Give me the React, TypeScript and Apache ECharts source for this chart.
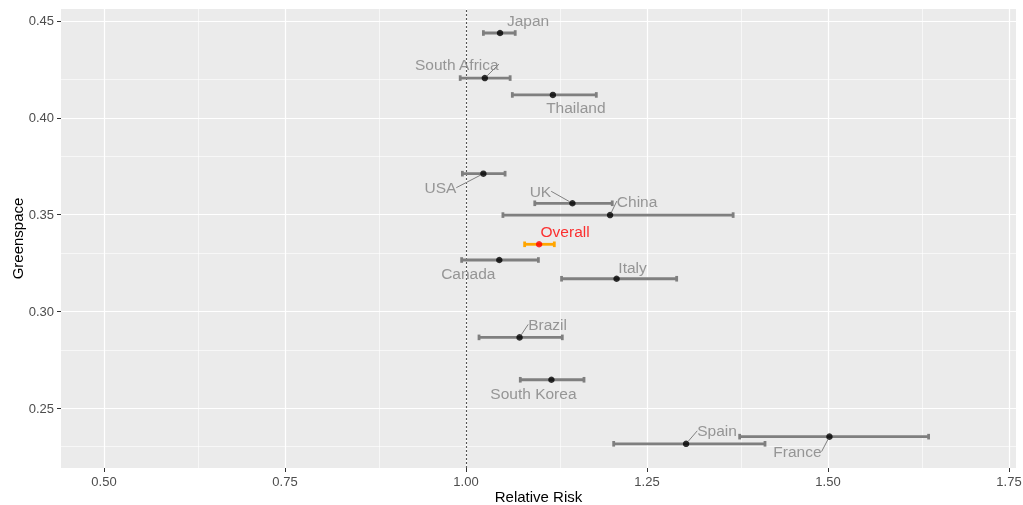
import React, { useEffect, useRef } from "react";
import * as echarts from "echarts";

const countries = ["Japan", "South Africa", "Thailand", "USA", "UK", "China", "Overall", "Canada", "Italy", "Brazil", "South Korea", "Spain", "France"];
const relativeRisk = [1.047, 1.026, 1.12, 1.024, 1.147, 1.199, 1.101, 1.046, 1.208, 1.074, 1.118, 1.304, 1.502];
const lowerCI = [1.024, 0.992, 1.064, 0.995, 1.095, 1.051, 1.081, 0.994, 1.132, 1.018, 1.075, 1.204, 1.378];
const upperCI = [1.068, 1.061, 1.18, 1.054, 1.202, 1.369, 1.122, 1.1, 1.291, 1.133, 1.163, 1.413, 1.639];
const greenspace = [0.4438, 0.4205, 0.4118, 0.3711, 0.3558, 0.3497, 0.3346, 0.3265, 0.3168, 0.2865, 0.2646, 0.2315, 0.2352];

const xTicks = [0.5, 0.75, 1.0, 1.25, 1.5, 1.75];
const xMinor = [0.625, 0.875, 1.125, 1.375, 1.625];
const yTicks = [0.25, 0.3, 0.35, 0.4, 0.45];
const yMinor = [0.225, 0.275, 0.325, 0.375, 0.425];
const referenceRR = 1.0;

// label placement (pixel offsets from the point) and whether a leader line is drawn
const labelOffsets: [number, number][] = [
  [28, -12], [-28, -14], [23, 13], [-43, 14], [-32, -12], [27, -14], [26, -13],
  [-31, 14], [16, -11], [28, -13], [-18, 14], [31, -13], [-32, 15],
];
const leader = [false, true, false, true, true, true, false, false, false, true, false, true, true];

export default function App() {
  const ref = useRef<HTMLDivElement>(null);
  useEffect(() => {
    if (!ref.current) return;
    const chart = echarts.init(ref.current, undefined, { renderer: "svg" });
    const grey = "#7f7f7f";
    const errData = countries.map((c, i) => ({
      name: c,
      value: [lowerCI[i], upperCI[i], greenspace[i]],
      itemStyle: { color: c === "Overall" ? "#FFA500" : grey },
    }));
    const ptData = countries.map((c, i) => ({
      name: c,
      value: [relativeRisk[i], greenspace[i]],
      itemStyle: { color: c === "Overall" ? "#FF0000" : "#000000" },
      label: { color: c === "Overall" ? "#FF0000" : "#808080" },
      labelLine: { show: leader[i] },
    }));
    const option: any = {
      animation: false,
      textStyle: { fontFamily: "'Liberation Sans', Arial, sans-serif" },
      grid: {
        left: 61, right: 7, top: 9, bottom: 37,
        outerBoundsMode: "none", containLabel: false,
        show: true, backgroundColor: "#EBEBEB", borderWidth: 0,
      },
      xAxis: {
        type: "value", min: 0.4406, max: 1.7597,
        name: "Relative Risk", nameLocation: "middle", nameGap: 21, nameMoveOverlap: false,
        nameTextStyle: { color: "#000", fontSize: 15 },
        axisLine: { show: false },
        axisTick: { show: true, length: 4, customValues: xTicks, lineStyle: { color: "#333" } },
        axisLabel: { customValues: xTicks, formatter: (v: number) => v.toFixed(2), color: "#4D4D4D", fontSize: 13, margin: 7 },
        splitLine: { show: false },
      },
      yAxis: {
        type: "value", min: 0.219, max: 0.4562,
        name: "Greenspace", nameLocation: "middle", nameGap: 36, nameMoveOverlap: false,
        nameTextStyle: { color: "#000", fontSize: 15 },
        axisLine: { show: false },
        axisTick: { show: true, length: 4, customValues: yTicks, lineStyle: { color: "#333" } },
        axisLabel: { customValues: yTicks, formatter: (v: number) => v.toFixed(2), color: "#4D4D4D", fontSize: 13, margin: 7 },
        splitLine: { show: false },
      },
      series: [
        {
          type: "scatter", data: [], z: 1, silent: true,
          markLine: {
            z: 1, silent: true, symbol: ["none", "none"], label: { show: false },
            lineStyle: { color: "#ffffff", width: 0.6, type: "solid" },
            data: [...xMinor.map((v) => ({ xAxis: v })), ...yMinor.map((v) => ({ yAxis: v }))],
          },
        },
        {
          type: "scatter", data: [], z: 2, silent: true,
          markLine: {
            z: 2, silent: true, symbol: ["none", "none"], label: { show: false },
            lineStyle: { color: "#ffffff", width: 1.2, type: "solid" },
            data: [...xTicks.map((v) => ({ xAxis: v })), ...yTicks.map((v) => ({ yAxis: v }))],
          },
        },
        {
          type: "scatter", data: [], z: 3, silent: true,
          markLine: {
            z: 3, silent: true, symbol: ["none", "none"], label: { show: false },
            lineStyle: { color: "#555555", width: 1.1, type: [2, 2] },
            data: [{ xAxis: referenceRR }],
          },
        },
        {
          type: "custom", z: 4, silent: true,
          encode: { x: [0, 1], y: 2 },
          data: errData,
          renderItem: (params: any, api: any) => {
            const lo = api.coord([api.value(0), api.value(2)]);
            const hi = api.coord([api.value(1), api.value(2)]);
            const color = api.visual("color");
            const h = 2.8;
            const style = { stroke: color, lineWidth: 2.8 };
            return {
              type: "group",
              children: [
                { type: "line", shape: { x1: lo[0], y1: lo[1], x2: hi[0], y2: hi[1] }, style },
                { type: "line", shape: { x1: lo[0], y1: lo[1] - h, x2: lo[0], y2: lo[1] + h }, style },
                { type: "line", shape: { x1: hi[0], y1: hi[1] - h, x2: hi[0], y2: hi[1] + h }, style },
              ],
            };
          },
        },
        {
          type: "scatter", z: 5, silent: true,
          symbolSize: 6.5,
          data: ptData,
          label: {
            show: true, position: "inside", formatter: "{b}",
            fontSize: 15.5, color: "#808080",
          },
          labelLine: { show: true, lineStyle: { color: "#808080", width: 1 } },
          labelLayout: (p: any) => ({ dx: labelOffsets[p.dataIndex][0], dy: labelOffsets[p.dataIndex][1] }),
        },
      ],
    };
    chart.setOption(option);
    return () => chart.dispose();
  }, []);
  return <div ref={ref} style={{ position: "fixed", left: 0, top: 0, width: 1023, height: 505 }} />;
}
